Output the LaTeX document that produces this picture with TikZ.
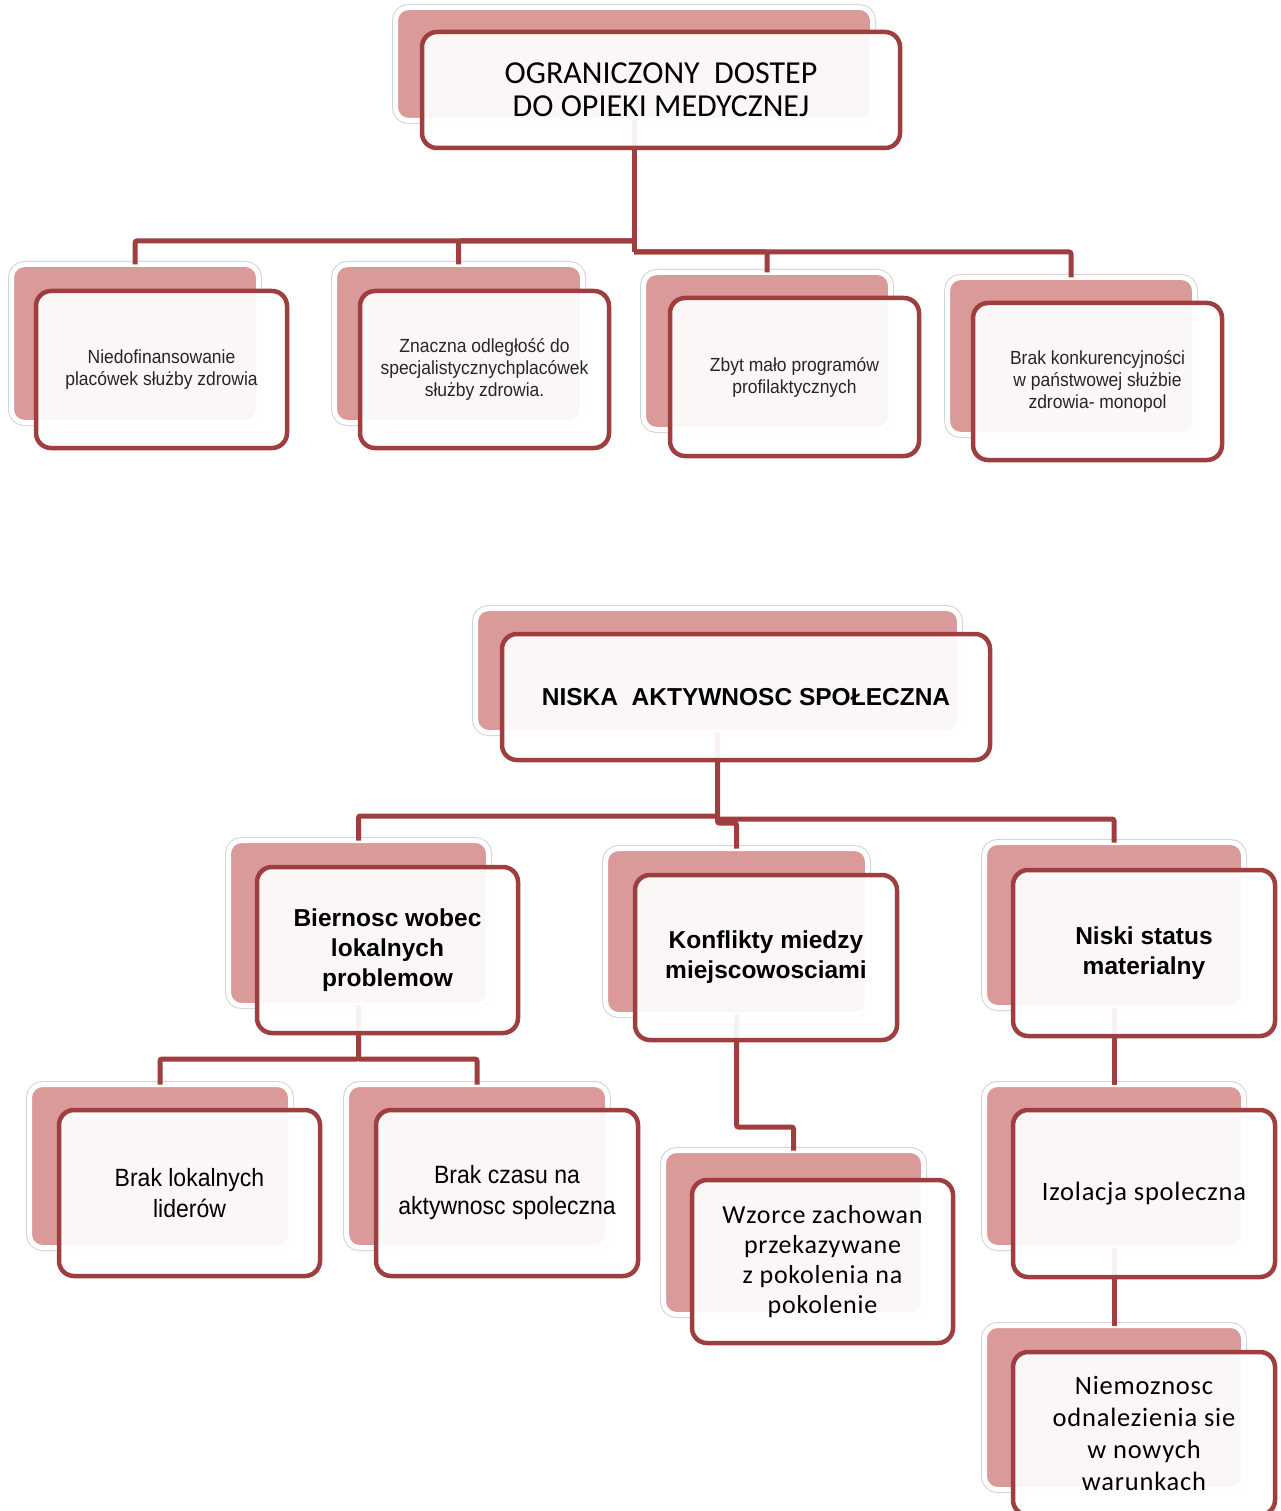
\documentclass[tikz,border=0pt]{standalone}
\usepackage{fontspec}
\setmainfont{Carlito}
\newfontfamily\calfont{Carlito}
\newfontfamily\calspaced[LetterSpace=3]{Carlito}
\newfontfamily\narrowfont[FakeStretch=0.92]{Liberation Sans}
\newfontfamily\arialfont{Liberation Sans}
\definecolor{backpink}{RGB}{218,154,153}
\definecolor{darkred}{RGB}{158,62,62}
\pgfdeclarelayer{bg}
\pgfdeclarelayer{mid}
\pgfsetlayers{bg,mid,main}
\tikzset{
 backbox/.style={rectangle, rounded corners=13pt, fill=backpink, draw=white, line width=5pt,
   preaction={draw=black!17, line width=7pt}, inner sep=0pt, outer sep=0pt},
 frontbox/.style={rectangle, rounded corners=15pt, draw=darkred, line width=4.5pt, fill=white,
   fill opacity=0.93, text opacity=1, inner sep=0pt, outer sep=0pt, align=center, text=black},
 conn/.style={draw=darkred, line width=5pt, rounded corners=2pt},
 topfont/.style={font=\calfont\fontsize{32}{33}\selectfont},
 smallfont/.style={font=\narrowfont\fontsize{19}{22}\selectfont, text=black!85},
 boldfont/.style={font=\arialfont\bfseries\fontsize{24.5}{30}\selectfont},
 narrowbig/.style={font=\narrowfont\fontsize{25}{31}\selectfont},
 calbig/.style={font=\calspaced\fontsize{26.5}{31}\selectfont}
}
\begin{document}
\begin{tikzpicture}[x=1pt,y=-1pt]
\useasboundingbox (0,0) rectangle (1281,1511);
\begin{pgfonlayer}{bg}
\fill[white] (0,0) rectangle (1281,1511);
% back boxes
\node[backbox, minimum width=477pt, minimum height=113pt] (T0b) at (634,64) {};
\node[backbox, minimum width=247pt, minimum height=158pt] (A1b) at (135,343.5) {};
\node[backbox, minimum width=248pt, minimum height=158pt] (A2b) at (458.5,343.5) {};
\node[backbox, minimum width=247pt, minimum height=157pt] (A3b) at (767,351) {};
\node[backbox, minimum width=247pt, minimum height=157pt] (A4b) at (1071,356) {};
\node[backbox, minimum width=484pt, minimum height=124pt] (B0b) at (717.5,670.5) {};
\node[backbox, minimum width=260pt, minimum height=165pt] (B1b) at (358.5,923) {};
\node[backbox, minimum width=262pt, minimum height=166pt] (B2b) at (736.5,931.5) {};
\node[backbox, minimum width=259pt, minimum height=165pt] (B3b) at (1114,925) {};
\node[backbox, minimum width=261pt, minimum height=163pt] (C1b) at (160,1166) {};
\node[backbox, minimum width=261pt, minimum height=163pt] (C2b) at (477,1166) {};
\node[backbox, minimum width=260pt, minimum height=164pt] (C3b) at (793.5,1232.5) {};
\node[backbox, minimum width=259pt, minimum height=163pt] (C4b) at (1114,1166) {};
\node[backbox, minimum width=259pt, minimum height=164pt] (C5b) at (1114,1407.5) {};
\end{pgfonlayer}
\begin{pgfonlayer}{mid}
\coordinate (j1) at (634,241);
\coordinate (j2) at (634,252);
\draw[conn] (T0b.south) -- (j2);
\draw[conn] (j1) -| (A1b.north);
\draw[conn] (j1) -| (A2b.north);
\draw[conn] (j2) -| (A3b.north);
\draw[conn] (j2) -| (A4b.north);
\coordinate (j3) at (717.5,816);
\coordinate (j4) at (717.5,819);
\coordinate (j5) at (717.5,823);
\draw[conn] (B0b.south) -- (j5) -| (B2b.north);
\draw[conn] (j3) -| (B1b.north);
\draw[conn] (j4) -| (B3b.north);
\coordinate (j6) at (358.5,1059);
\draw[conn] (B1b.south) -- (j6) -| (C1b.north);
\draw[conn] (j6) -| (C2b.north);
\coordinate (j7) at (736.5,1127);
\draw[conn] (B2b.south) -- (j7) -| (C3b.north);
\draw[conn] (B3b.south) -- (C4b.north);
\draw[conn] (C4b.south) -- (C5b.north);
\end{pgfonlayer}
% front boxes
\node[frontbox, topfont, minimum width=478pt, minimum height=116pt] (T0) at (661,90) {OGRANICZONY\ \ DOSTEP\\DO OPIEKI MEDYCZNEJ};
\node[frontbox, smallfont, minimum width=251pt, minimum height=157pt] (A1) at (161.5,369.5) {Niedofinansowanie\\placówek służby zdrowia};
\node[frontbox, smallfont, minimum width=249pt, minimum height=157pt] (A2) at (484.5,369.5) {Znaczna odległość do\\specjalistycznychplacówek\\służby zdrowia.};
\node[frontbox, smallfont, minimum width=249pt, minimum height=158pt] (A3) at (794.5,377) {Zbyt mało programów\\profilaktycznych};
\node[frontbox, smallfont, minimum width=249pt, minimum height=157pt] (A4) at (1097.5,381.5) {Brak konkurencyjności\\w państwowej służbie\\zdrowia- monopol};
\node[frontbox, boldfont, minimum width=488pt, minimum height=126pt] (B0) at (746,697) {NISKA\ \ AKTYWNOSC SPOŁECZNA};
\node[frontbox, boldfont, minimum width=261pt, minimum height=166pt] (B1) at (387.5,950) {Biernosc wobec\\lokalnych\\problemow};
\node[frontbox, boldfont, minimum width=262pt, minimum height=165pt] (B2) at (766,957.5) {Konflikty miedzy\\miejscowosciami};
\node[frontbox, boldfont, minimum width=262pt, minimum height=166pt] (B3) at (1144,953) {Niski status\\materialny};
\node[frontbox, narrowbig, minimum width=261pt, minimum height=166pt] (C1) at (189.5,1193) {Brak lokalnych\\liderów};
\node[frontbox, narrowbig, minimum width=262pt, minimum height=166pt] (C2) at (507,1193) {Brak czasu na\\aktywnosc spoleczna};
\node[frontbox, calbig, font=\calspaced\fontsize{26}{30}\selectfont, minimum width=261pt, minimum height=163pt] (C3) at (822.5,1261.5) {Wzorce zachowan\\przekazywane\\z pokolenia na\\pokolenie};
\node[frontbox, calbig, minimum width=262pt, minimum height=167pt] (C4) at (1144,1193.5) {Izolacja spoleczna};
\node[frontbox, calbig, font=\calspaced\fontsize{26.5}{32}\selectfont, minimum width=262pt, minimum height=163pt] (C5) at (1144,1433.5) {Niemoznosc\\odnalezienia sie\\w nowych\\warunkach};
\end{tikzpicture}
\end{document}
